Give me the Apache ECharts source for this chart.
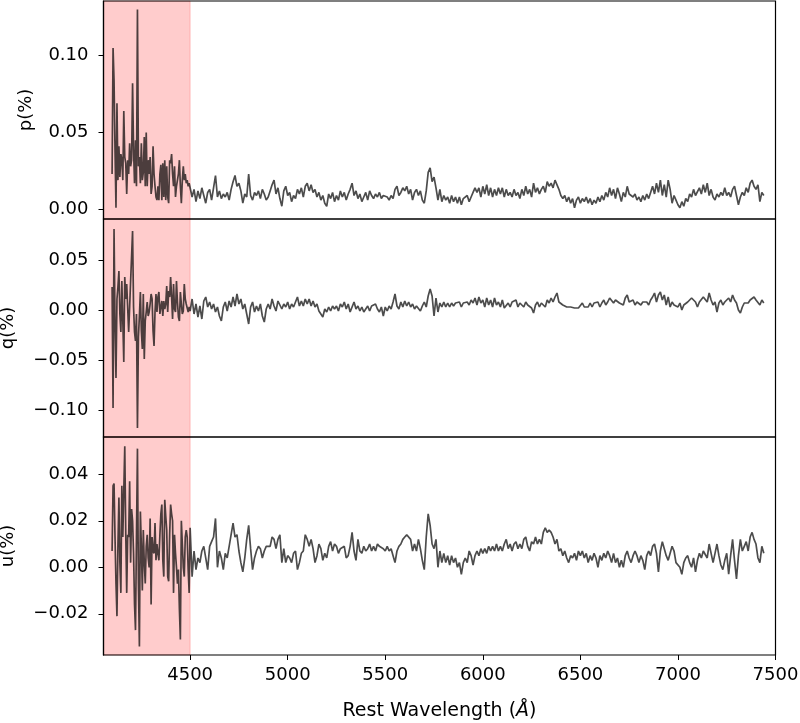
<!DOCTYPE html>
<html>
<head>
<meta charset="utf-8">
<script src="https://cdn.jsdelivr.net/npm/echarts@6/dist/echarts.min.js"></script>
<style>html,body{margin:0;padding:0;background:#fff}#c{width:800px;height:723px}</style>
</head>
<body>
<div id="c"></div>
<script>
// wavelength grid: 5 A steps in the shaded region, 10 A steps after
const redStart = 4100, redStep = 5;
const mainStart = 4500, mainStep = 10;
const xTicks = [4500, 5000, 5500, 6000, 6500, 7000, 7500];
const shadeEnd = 4500;

const pRed = [
.023,.105,.084,.039,.001,.069,.019,.041,.021,.036,
.032,.019,.064,.034,.030,.010,.032,.023,.043,.028,
.032,.082,.039,.017,.045,.015,.130,.028,.034,.017,
.043,.019,.024,.047,.015,.050,.015,.032,.023,.034,
.010,.015,.041,.023,.015,.008,.006,.015,.006,.023,
.029,.006,.030,.008,.032,.006,.028,.008,.004,.032,
.030,.036,.023,.015,.028,.008,.015,.019,.023,.032,
.015,.004,.019,.028,.019,.023,.017,.019,.015,.017];
const pMain = [
.017,.008,.013,.005,.012,.007,.014,.009,.004,.011,
.013,.006,.014,.022,.008,.012,.007,.010,.008,.011,
.006,.013,.018,.022,.015,.017,.012,.004,.010,.008,
.023,.009,.006,.011,.009,.012,.007,.013,.010,.006,
.008,.012,.016,.019,.010,.014,.007,.002,.012,.015,
.009,.011,.005,.009,.007,.013,.010,.014,.008,.015,
.017,.012,.016,.011,.013,.008,.011,.006,.009,.004,
.002,.010,.007,.011,.005,.009,.006,.012,.008,.011,
.006,.010,.013,.017,.009,.012,.007,.010,.005,.008,
.011,.006,.012,.009,.007,.010,.008,.011,.007,.009,
.010,.008,.006,.009,.007,.013,.015,.009,.011,.014,
.012,.015,.010,.013,.006,.011,.013,.009,.012,.006,
.004,.012,.024,.027,.018,.021,.014,.006,.013,.005,
.009,.006,.008,.004,.009,.005,.008,.004,.008,.003,
.007,.006,.009,.005,.008,.011,.014,.011,.014,.008,
.015,.010,.016,.009,.014,.008,.013,.009,.014,.010,
.014,.008,.013,.009,.011,.008,.013,.009,.011,.007,
.013,.009,.015,.010,.013,.008,.017,.011,.014,.010,
.013,.015,.011,.018,.015,.017,.014,.019,.0195,.013,
.009,.007,.009,.005,.008,.004,.007,.001,.006,.008,
.004,.007,.005,.008,.004,.007,.003,.006,.004,.008,
.005,.009,.006,.011,.008,.014,.009,.013,.007,.014,
.010,.005,.011,.008,.015,.010,.011,.008,.010,.006,
.008,.005,.009,.006,.010,.007,.011,.015,.010,.017,
.011,.019,.009,.016,.008,.019,.013,.004,.009,.006,
.003,.001,.005,.002,.007,.005,.010,.008,.013,.009,
.008,.014,.010,.016,.011,.017,.009,.013,.008,.006,
.010,.008,.011,.009,.014,.009,.011,.008,.013,.015,
.009,.003,.008,.011,.009,.014,.011,.017,.019,.015,
.013,.016,.005,.011,.009];

const qRed = [
.023,-.098,.081,-.011,-.068,.011,.023,.039,-.004,-.022,
.029,-.011,-.052,.033,.011,.026,.028,-.022,.003,.029,
.031,.079,.003,-.022,-.031,-.004,-.118,-.027,-.006,.018,
-.021,-.039,.016,-.049,-.011,-.002,.008,-.006,-.002,.006,
.016,.011,-.021,-.036,-.002,.016,-.002,.013,.018,-.004,
.003,.009,-.006,.009,.001,.006,.024,-.002,.019,.013,
.033,.013,-.009,.026,.001,-.002,.029,.008,-.007,-.011,
.018,.006,-.004,-.001,.026,.011,.006,.008,-.002,.003];
const qMain = [
-.001,.011,-.004,.006,-.007,.004,-.009,.009,.013,.003,
.008,.001,.006,-.002,.003,-.006,-.011,.003,.008,-.001,
.009,.003,.013,.004,.016,.006,.011,.001,.006,-.004,
-.014,.003,.008,-.002,.004,-.001,.006,-.006,-.012,.001,
.006,.001,.011,.004,-.001,.009,.011,.001,.006,.003,
.008,.001,.006,.003,.008,.013,.004,.009,.004,.011,
.006,.011,.004,.009,.003,.006,-.001,-.004,-.007,.001,
-.002,.003,-.001,.004,.001,.004,-.001,.006,.003,.008,
.001,.006,-.002,.003,.008,.001,.004,-.001,.003,-.002,
.001,.004,-.001,.004,.003,.006,.001,-.002,.003,-.006,
.003,-.001,.004,.001,.008,.016,.004,.001,.008,.003,
.009,.004,.008,.003,.006,.001,.004,.003,-.001,.004,
.008,.003,.014,.021,.014,-.006,.012,-.002,.007,.003,
.008,.003,.007,.003,.007,.004,.007,.005,.008,.003,
.007,.005,.008,.005,.010,.007,.012,.005,.013,.007,
.010,.003,.012,.005,.010,.003,.012,.005,.008,.003,
.010,.002,.000,.007,.003,.008,.007,.010,.003,.007,
.008,.003,.008,.005,.007,.002,-.003,.005,.008,.003,
.007,.008,.003,.010,.007,.012,.008,.013,.017,.008,
.010,.005,.007,.003,.005,.003,.005,.002,.003,.002,
.004,.007,.003,.005,.003,.007,.003,.007,.005,.008,
.003,.007,.010,.005,.008,.012,.013,.007,.010,.012,
.007,.008,.005,.012,.015,.008,.007,.010,.005,.008,
.007,.005,.008,.007,.008,.005,.010,.013,.017,.008,
.015,.018,.010,.015,.005,.013,.003,.008,.005,.007,
.003,.007,.000,.005,.003,.008,.007,.012,.013,.008,
.003,.008,.007,.013,.015,.008,.017,.010,.005,.008,
-.002,.007,.010,.005,.008,.007,.012,.008,.015,.010,
.007,.000,-.003,.003,.007,.008,.007,.010,.008,.013,
.010,.012,.005,.010,.007];

const uRed = [
.007,.035,.036,.013,-.007,-.021,.009,.030,.002,-.011,
.035,.013,.033,.052,.015,-.011,.014,.013,.037,.002,
.025,.020,.006,-.016,-.027,.013,.051,-.007,-.034,.024,
.009,-.010,.016,.002,-.007,.009,.014,.004,.000,.021,
-.016,.013,.007,.006,.019,.003,.010,.006,.003,.014,
.023,.027,.003,-.004,.029,.022,.016,-.004,-.006,.014,
.027,.023,.020,-.011,.014,.006,.000,-.007,-.001,-.018,
-.031,.020,.010,.000,-.004,.013,.016,.013,-.001,-.011];
const uMain = [
.017,-.004,.007,-.001,.004,.002,.007,.009,.009,-.001,
.009,.011,.013,.021,.000,.007,.004,-.001,.006,.004,
.009,.014,.019,.013,.014,.007,.002,-.002,.004,.012,
.018,.008,-.001,.004,.007,.009,.008,.004,.007,.009,
.009,.009,.013,.012,.008,.012,.014,.002,.008,.002,
.005,.004,.002,.006,.007,-.001,.002,.006,.007,.014,
.012,.009,.012,.008,.002,.005,.010,.008,.003,.006,
.004,.009,.011,.007,.010,.009,.006,.008,.008,.009,
.004,.005,.009,.015,.007,.003,.012,.007,.006,.009,
.007,.008,.010,.007,.009,.007,.010,.009,.009,.008,
.007,.009,.007,.008,.005,.002,.007,.009,.010,.012,
.013,.014,.014,.012,.007,.010,.007,.012,.008,.003,
-.001,.013,.023,.018,.010,.008,.012,.000,.007,.002,
.006,.002,.005,.001,.005,.002,.004,.000,.002,-.003,
.002,.004,.002,.007,.005,.001,.005,.007,.005,.008,
.006,.008,.006,.009,.007,.009,.007,.010,.007,.009,
.007,.010,.012,.008,.010,.007,.010,.011,.008,.010,
.008,.012,.013,.009,.007,.011,.010,.013,.010,.012,
.010,.015,.017,.015,.016,.015,.013,.010,.012,.007,
.008,.005,.007,.004,.002,.005,.004,.006,.003,.007,
.005,.007,.004,.006,.002,.005,.003,.006,.004,.000,
.005,.003,.006,.004,.007,.005,.002,.006,.002,.004,
.000,.003,.000,.005,.007,.004,.002,.005,.007,.005,
.002,.005,.003,-.001,.005,.007,.005,.009,.010,.006,
-.002,.007,.011,.008,.005,.003,.006,.009,.007,.002,
.002,.000,-.003,.002,.004,.005,.002,.000,.004,-.002,
.003,.006,.004,.007,.007,.004,.010,.006,.002,.006,
.010,.005,.001,-.001,.003,.006,-.003,.005,.012,.003,
-.005,.005,.012,.007,.009,.011,.007,.013,.015,.012,
.010,.004,.002,.009,.006];

const panels = [
  {name: 'p(%)', red: pRed, main: pMain, min: -0.0063, max: 0.1356, ticks: [0, 0.05, 0.10], gap: 68},
  {name: 'q(%)', red: qRed, main: qMain, min: -0.127, max: 0.091, ticks: [-0.10, -0.05, 0, 0.05], gap: 86},
  {name: 'u(%)', red: uRed, main: uMain, min: -0.0377, max: 0.056, ticks: [-0.02, 0, 0.02, 0.04], gap: 86}
];

function build(red, main) {
  const out = [];
  red.forEach((v, i) => out.push([redStart + redStep * i, v]));
  main.forEach((v, i) => out.push([mainStart + mainStep * i, v]));
  return out;
}

const FONT = 'DejaVu Sans';
const tops = [1, 219, 437];
const grids = [], xAxes = [], yAxes = [], series = [];
const fmt = v => v.toFixed(2).replace('-', '\u2212');

panels.forEach((pn, k) => {
  grids.push({left: 103.5, width: 672, top: tops[k], height: 218, show: true,
    containLabel: false, outerBoundsMode: 'none',
    borderColor: '#000', borderWidth: 1.2, backgroundColor: 'transparent', z: 10});
  const last = k === panels.length - 1;
  xAxes.push({
    type: 'value', gridIndex: k, min: 4056, max: 7500,
    axisLine: {show: false, onZero: false},
    splitLine: {show: false},
    axisTick: {show: last, customValues: xTicks, length: 5, lineStyle: {color: '#000', width: 1}},
    axisLabel: {show: last, customValues: xTicks, formatter: v => String(v), fontSize: 18, color: '#000', fontFamily: FONT, margin: 11},
    name: last ? 'Rest Wavelength ({i|Å})' : '',
    nameLocation: 'middle', nameGap: 47,
    nameTextStyle: {fontSize: 19, color: '#000', fontFamily: FONT,
      rich: {i: {fontStyle: 'italic', fontSize: 19, color: '#000', fontFamily: FONT}}}
  });
  yAxes.push({
    type: 'value', gridIndex: k, min: pn.min, max: pn.max,
    axisLine: {show: true, onZero: false, lineStyle: {color: '#000', width: 1.2}},
    splitLine: {show: false},
    axisTick: {show: true, customValues: pn.ticks, length: 5, lineStyle: {color: '#000', width: 1}},
    axisLabel: {customValues: pn.ticks, formatter: fmt, fontSize: 18, color: '#000', fontFamily: FONT, margin: 15},
    name: pn.name, nameLocation: 'middle', nameGap: pn.gap,
    nameTextStyle: {fontSize: 18, color: '#000', fontFamily: FONT}
  });
  series.push({
    type: 'line', xAxisIndex: k, yAxisIndex: k, data: [], z: 1, silent: true,
    markArea: {silent: true, itemStyle: {color: 'rgba(255,0,0,0.2)', borderColor: 'rgba(255,0,0,0.2)', borderWidth: 1},
      data: [[{xAxis: 4056}, {xAxis: shadeEnd}]]}
  });
  series.push({
    type: 'line', xAxisIndex: k, yAxisIndex: k, z: 3,
    data: build(pn.red, pn.main), showSymbol: false, symbol: 'none',
    lineStyle: {color: 'rgba(0,0,0,0.7)', width: 1.7}, animation: false
  });
});

const chart = echarts.init(document.getElementById('c'), null, {renderer: 'canvas'});
chart.setOption({animation: false, grid: grids, xAxis: xAxes, yAxis: yAxes, series: series});
</script>
</body>
</html>
